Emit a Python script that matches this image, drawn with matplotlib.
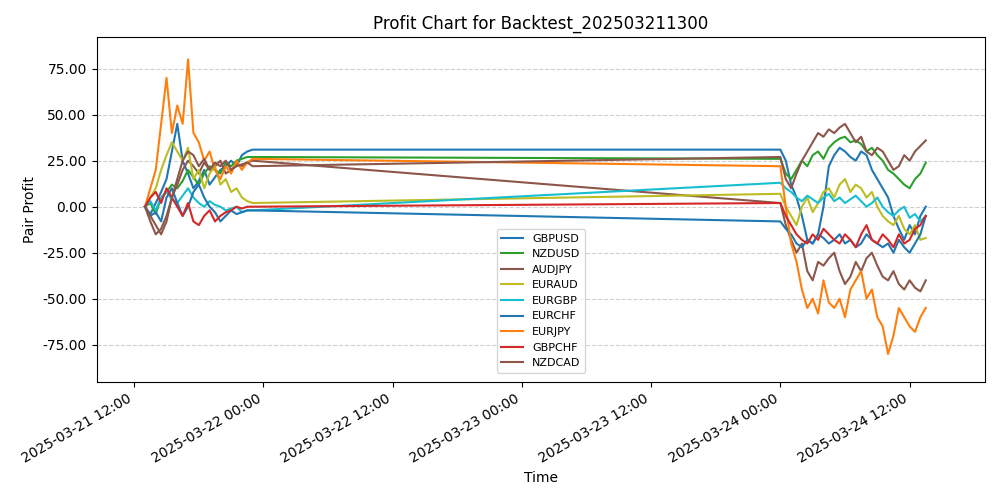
import matplotlib
matplotlib.use("Agg")
import matplotlib.pyplot as plt
import matplotlib.dates as mdates
import matplotlib.ticker as mticker
import pandas as pd

# two trading sessions, 30 min steps
t1 = pd.date_range("2025-03-21 13:00", "2025-03-21 23:00", freq="30min")
t2 = pd.date_range("2025-03-24 00:00", "2025-03-24 13:30", freq="30min")
times = t1.append(t2)

gbpusd = [0, -4, 2, 8, 15, 30, 45, 25, 18, 10, 14, 20, 12, 16, 20, 22, 25, 22, 28, 30, 31,
          31, 25, 12, 5, -5, -18, -20, -15, 0, 22, 28, 32, 30, 27, 25, 30, 28, 20, 15, 10,
          5, -5, -12, -18, -10, -15, -5, 0]
nzdusd = [0, 2, -4, 5, 8, 12, 10, 14, 20, 16, 12, 18, 22, 20, 18, 24, 22, 25, 26, 27, 27,
          26, 18, 15, 20, 25, 22, 28, 30, 26, 32, 35, 37, 38, 35, 36, 34, 30, 32, 28, 25,
          20, 18, 15, 12, 10, 15, 18, 24]
audjpy = [0, -8, -15, -12, -5, 5, 12, 20, 25, 22, 18, 24, 20, 22, 25, 18, 20, 23, 22, 24, 25,
          2, -10, -18, -25, -20, -35, -40, -30, -32, -28, -25, -35, -42, -38, -30, -35, -28, -25, -32, -38,
          -40, -35, -42, -45, -40, -44, -46, -40]
euraud = [0, 5, 10, 20, 28, 35, 30, 25, 32, 15, 20, 10, 18, 22, 12, 15, 8, 10, 5, 3, 2,
          7, 0, -5, -10, 0, 5, -3, 2, 8, 10, 5, 12, 15, 8, 12, 10, 5, 8, 0, -5,
          -8, -10, -5, -12, -15, -10, -18, -17]
eurgbp = [0, 3, -2, 5, 8, 4, 2, 6, 10, 5, 2, 0, 3, 1, 0, -2, -1, 0, -3, -2, -2,
          13, 10, 8, 5, 3, 6, 4, 2, 5, 7, 3, 5, 2, 4, 6, 3, 0, 2, 5, 0,
          -3, -5, -2, 0, -6, -4, -8, -5]
eurchf = [0, -5, -3, -8, 5, 10, 2, -5, 0, 8, 12, 5, 0, -3, -8, -5, -2, -4, -3, -2, -2,
          -8, -12, -15, -20, -22, -18, -20, -15, -17, -20, -18, -15, -20, -18, -22, -20, -15, -18, -20, -22,
          -20, -25, -18, -22, -25, -20, -15, -5]
eurjpy = [0, 10, 20, 45, 70, 40, 55, 45, 80, 40, 35, 25, 30, 20, 15, 22, 18, 25, 20, 24, 26,
          22, 0, -20, -30, -45, -55, -50, -58, -40, -52, -55, -50, -60, -45, -40, -35, -50, -45, -60, -65,
          -80, -70, -55, -60, -65, -68, -60, -55]
gbpchf = [0, 5, 8, 2, 10, 5, 0, -5, 2, -8, -10, -5, -2, -8, -5, -3, -2, 0, -1, 0, 0,
          2, -5, -10, -15, -18, -20, -15, -18, -12, -15, -18, -20, -15, -18, -22, -15, -10, -18, -20, -15,
          -18, -22, -15, -20, -18, -12, -10, -5]
nzdcad = [0, -5, -10, -15, -8, 5, 15, 25, 30, 28, 22, 26, 20, 24, 22, 25, 20, 22, 23, 24, 22,
          27, 15, 10, 18, 25, 30, 35, 40, 38, 42, 40, 43, 45, 40, 35, 38, 30, 28, 32, 30,
          25, 20, 22, 28, 25, 30, 33, 36]

pairs = ["GBPUSD", "NZDUSD", "AUDJPY", "EURAUD", "EURGBP", "EURCHF", "EURJPY", "GBPCHF", "NZDCAD"]
series = [gbpusd, nzdusd, audjpy, euraud, eurgbp, eurchf, eurjpy, gbpchf, nzdcad]
colors = ["tab:blue", "tab:green", "tab:brown", "tab:olive", "tab:cyan",
          "tab:blue", "tab:orange", "tab:red", "tab:brown"]

fig, ax = plt.subplots(figsize=(10, 5), dpi=100)
for name, vals, c in zip(pairs, series, colors):
    ax.plot(times, vals, color=c, label=name, linewidth=1.5)

ax.set_title("Profit Chart for Backtest_202503211300")
ax.set_xlabel("Time")
ax.set_ylabel("Pair Profit")
ax.set_ylim(-95, 92)
ax.set_xlim(pd.Timestamp("2025-03-21 08:30"), pd.Timestamp("2025-03-24 19:00"))
ax.xaxis.set_major_locator(mdates.HourLocator(byhour=[0, 12]))
ax.xaxis.set_major_formatter(mdates.DateFormatter("%Y-%m-%d %H:%M"))
ax.yaxis.set_major_formatter(mticker.FormatStrFormatter("%.2f"))
ax.yaxis.grid(True, linestyle="--", alpha=0.6)
ax.legend(loc="lower center", bbox_to_anchor=(0.5, 0.01), fontsize=8)
fig.autofmt_xdate()
fig.tight_layout()
fig.savefig("out.png")
